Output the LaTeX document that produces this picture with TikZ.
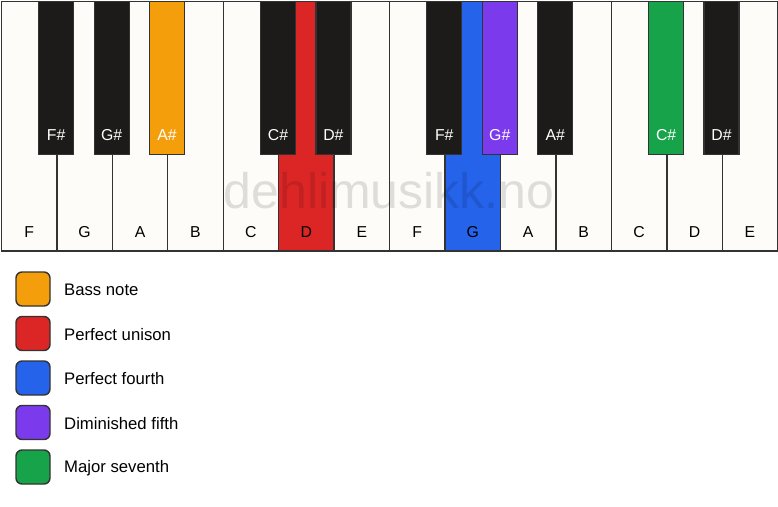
\documentclass[tikz,border=0pt]{standalone}
\usepackage{fontspec}
\setmainfont{Liberation Sans}
\usetikzlibrary{calc}
\definecolor{keywhite}{HTML}{FDFCF8}
\definecolor{keyblack}{HTML}{1C1B19}
\definecolor{keyline}{HTML}{333333}
\definecolor{cbass}{HTML}{F59E0B}
\definecolor{cunison}{HTML}{DC2626}
\definecolor{cfourth}{HTML}{2563EB}
\definecolor{cdim}{HTML}{7C3AED}
\definecolor{cseventh}{HTML}{16A34A}
\begin{document}
\begin{tikzpicture}[x=1pt,y=-1pt,
  whitekey/.style={draw=keyline,line width=1.4pt,fill=keywhite,minimum width=55.5pt,minimum height=249.5pt,inner sep=0pt,anchor=north west},
  blackkey/.style={draw=keyline,line width=1.2pt,fill=keyblack,minimum width=35pt,minimum height=153pt,inner sep=0pt,anchor=north},
  wlabel/.style={font=\fontsize{15.8}{15.8}\selectfont,text=black,anchor=base},
  blabel/.style={font=\fontsize{15.8}{15.8}\selectfont,text=white,anchor=base},
  legbox/.style={draw=keyline,line width=1.4pt,rounded corners=6pt,minimum width=34pt,minimum height=34pt,inner sep=0pt},
  legtext/.style={font=\fontsize{16.7}{16.7}\selectfont,anchor=west,inner sep=0pt}
]
\useasboundingbox (0,0) rectangle (778,506);
\fill[white] (0,0) rectangle (778,506);
% white keys
\foreach \n/\c [count=\i from 0] in {F/keywhite,G/keywhite,A/keywhite,B/keywhite,C/keywhite,D/cunison,E/keywhite,F/keywhite,G/cfourth,A/keywhite,B/keywhite,C/keywhite,D/keywhite,E/keywhite}{
  \node[whitekey,fill=\c] (w\i) at ({0.7+\i*55.45},0.7) {};
  \node[wlabel] (wl\i) at ($(w\i.south)+(0,-14)$) {\n};
}
% watermark
\node[font=\fontsize{50}{50}\selectfont,text=black,opacity=0.12,anchor=base] (wm) at (389,208) {dehlimusikk.no};
% black keys
\foreach \n/\c/\b in {F\#/keyblack/1,G\#/keyblack/2,A\#/cbass/3,C\#/keyblack/5,D\#/keyblack/6,F\#/keyblack/8,G\#/cdim/9,A\#/keyblack/10,C\#/cseventh/12,D\#/keyblack/13}{
  \node[blackkey,fill=\c] (b\b) at (w\b.north west) {};
  \node[blabel] (bl\b) at ($(b\b.south)+(0,-14.5)$) {\n};
}
% legend
\foreach \c/\t [count=\j from 0] in {cbass/Bass note,cunison/Perfect unison,cfourth/Perfect fourth,cdim/Diminished fifth,cseventh/Major seventh}{
  \node[legbox,fill=\c] (lb\j) at (33,{289+\j*44.5}) {};
  \node[legtext] (lt\j) at (64,{290+\j*44.5}) {\t};
}
\end{tikzpicture}
\end{document}
